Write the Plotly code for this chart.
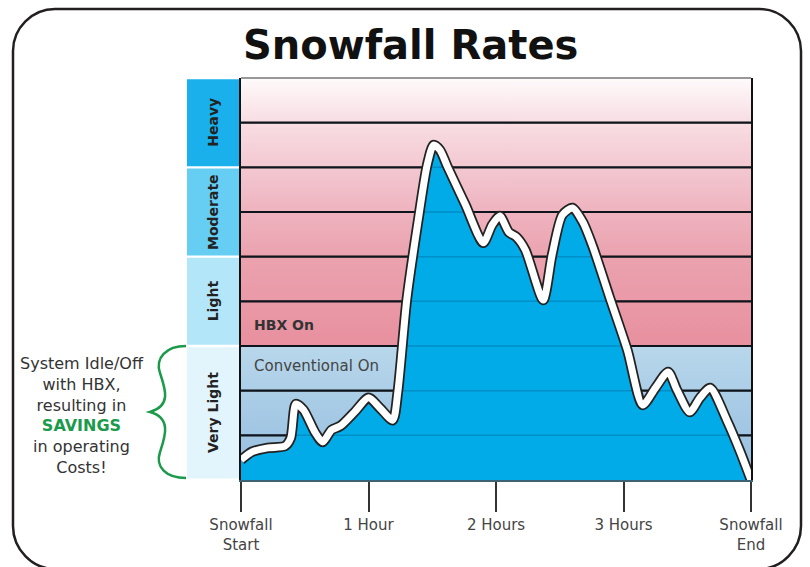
import plotly.graph_objects as go

# ---- data ----
hours = [0.0, 0.086, 0.21, 0.345, 0.39, 0.43, 0.49, 0.58, 0.64, 0.71, 0.78, 0.89, 1.0,
         1.09, 1.19, 1.23, 1.30, 1.39, 1.46, 1.51, 1.56, 1.62, 1.76, 1.90, 1.97, 2.03,
         2.10, 2.16, 2.23, 2.37, 2.44, 2.52, 2.60, 2.68, 2.76, 2.89, 3.03, 3.15, 3.25,
         3.35, 3.42, 3.52, 3.60, 3.68, 3.81, 3.91, 4.0]
rate = [0.45, 0.63, 0.72, 0.76, 0.94, 1.70, 1.57, 1.07, 0.85, 1.12, 1.21, 1.52, 1.84,
        1.61, 1.34, 1.97, 4.03, 5.82, 7.05, 7.50, 7.39, 7.01, 6.16, 5.31, 5.71, 5.91,
        5.55, 5.44, 5.15, 4.03, 5.04, 5.93, 6.09, 5.78, 5.22, 4.10, 2.91, 1.68, 2.06,
        2.42, 2.01, 1.52, 1.84, 2.06, 1.34, 0.67, 0.0]

tick_vals = [0, 1, 2, 3, 4]
tick_text = ["Snowfall<br>Start", "1 Hour", "2 Hours", "3 Hours", "Snowfall<br>End"]

band_names = ["Very Light", "Light", "Moderate", "Heavy"]
band_lo = [0, 3, 5, 7]
band_hi = [3, 5, 7, 9]
band_colors = ["#e2f4fc", "#b4e6fa", "#66cdf3", "#1ab0ec"]
grid_levels = [1, 2, 3, 4, 5, 6, 7, 8]
hbx_level = 3      # boundary between conventional and HBX zones
top_level = 9
x_end = 4

# ---- pixel helpers for decorations ----
L, R, T, B = 241, 751, 78, 480
W, H = 810, 567


def px(x):
    return (x - L) / (R - L)


def py(y):
    return (B - y) / (B - T)


def P(x, y):
    return f"{px(x):.5f},{py(y):.5f}"


fig = go.Figure()

# pink (HBX) gradient background
fig.add_trace(go.Scatter(
    x=[0, x_end, x_end, 0, 0], y=[hbx_level, hbx_level, top_level, top_level, hbx_level],
    mode="lines", fill="toself", line=dict(width=0), hoverinfo="skip",
    fillgradient=dict(type="vertical", colorscale=[
        [0, "#e8909f"], [0.333, "#eba2af"], [0.5, "#eeb3bf"],
        [0.667, "#f3c8d1"], [0.833, "#f8dde3"], [1, "#fefafb"]]),
    showlegend=False))
# blue (conventional) gradient background
fig.add_trace(go.Scatter(
    x=[0, x_end, x_end, 0, 0], y=[0, 0, hbx_level, hbx_level, 0],
    mode="lines", fill="toself", line=dict(width=0), hoverinfo="skip",
    fillgradient=dict(type="vertical", colorscale=[[0, "#94bddf"], [1, "#b8d7eb"]]),
    showlegend=False))

# grid lines
gx, gy = [], []
for g in grid_levels:
    gx += [0, x_end, None]
    gy += [g, g, None]
fig.add_trace(go.Scatter(x=gx, y=gy, mode="lines", line=dict(color="#111", width=2.2),
                         hoverinfo="skip", showlegend=False))

# snowfall area
fig.add_trace(go.Scatter(x=hours, y=rate, mode="lines", fill="tozeroy",
                         fillcolor="#00abe8", line=dict(width=0, shape="spline", smoothing=0.7),
                         hoverinfo="skip", showlegend=False))
# faint grid lines over the fill
fig.add_trace(go.Scatter(x=gx, y=gy, mode="lines", line=dict(color="rgba(0,40,80,0.22)", width=1.5),
                         hoverinfo="skip", showlegend=False))
# outline
fig.add_trace(go.Scatter(x=hours, y=rate, mode="lines",
                         line=dict(color="#222", width=10.5, shape="spline", smoothing=0.7),
                         hoverinfo="skip", showlegend=False))
fig.add_trace(go.Scatter(x=hours, y=rate, mode="lines",
                         line=dict(color="white", width=7, shape="spline", smoothing=0.7),
                         hoverinfo="skip", showlegend=False))

shapes = []
# band label boxes
for lo, hi, c in zip(band_lo, band_hi, band_colors):
    shapes.append(dict(type="rect", xref="paper", yref="paper",
                       x0=px(187), x1=px(239), y0=lo / top_level + (0.003 if lo > 0 else 0.004),
                       y1=hi / top_level - 0.003, fillcolor=c, line=dict(width=0), layer="above"))
# top border of plot
shapes.append(dict(type="line", xref="paper", yref="paper", x0=0, x1=1, y0=1, y1=1,
                   line=dict(color="#777", width=1.5)))
# outer rounded frame
frame = (f"M {P(55, 9)} L {P(759, 9)} C {P(782, 9)} {P(801, 28)} {P(801, 51)} "
         f"L {P(801, 526)} C {P(801, 549)} {P(782, 569)} {P(759, 569)} "
         f"L {P(55, 569)} C {P(32, 569)} {P(13, 549)} {P(13, 526)} "
         f"L {P(13, 51)} C {P(13, 28)} {P(32, 9)} {P(55, 9)} Z")
shapes.append(dict(type="path", xref="paper", yref="paper", path=frame,
                   line=dict(color="#231f20", width=2.5)))
# green brace
brace = (f"M {P(186, 346)} C {P(166, 346)} {P(155, 358)} {P(160, 373)} "
         f"C {P(165, 388)} {P(172, 406)} {P(150, 412)} "
         f"C {P(172, 418)} {P(165, 437)} {P(160, 452)} "
         f"C {P(155, 467)} {P(166, 478)} {P(186, 478)}")
shapes.append(dict(type="path", xref="paper", yref="paper", path=brace,
                   line=dict(color="#1a9a4a", width=2.5)))

annotations = []
for lo, hi, name in zip(band_lo, band_hi, band_names):
    annotations.append(dict(xref="paper", yref="y", x=px(213), y=(lo + hi) / 2, text=f"<b>{name}</b>",
                            textangle=-90, showarrow=False, xanchor="center", yanchor="middle",
                            font=dict(family="DejaVu Sans", size=14, color="#222")))
annotations.append(dict(xref="x", yref="y", x=0.09, y=3.47, text="<b>HBX On</b>", xanchor="left",
                        showarrow=False, font=dict(family="DejaVu Sans", size=14, color="#333")))
annotations.append(dict(xref="x", yref="y", x=0.085, y=2.55, text="Conventional On", xanchor="left",
                        showarrow=False, font=dict(family="DejaVu Sans", size=15, color="#444")))
annotations.append(dict(xref="paper", yref="paper", x=px(82), y=py(415.5),
                        xanchor="center", yanchor="middle",
                        text=("System Idle/Off<br>with HBX,<br>resulting in<br>"
                              "<b><span style='color:#1a9a4a'>SAVINGS</span></b><br>"
                              "in operating<br>Costs!"),
                        align="center", showarrow=False,
                        font=dict(family="DejaVu Sans", size=16, color="#333")))
annotations.append(dict(xref="paper", yref="paper", x=px(410), y=py(45), text="<b>Snowfall Rates</b>",
                        xanchor="center", yanchor="middle",
                        showarrow=False, font=dict(family="DejaVu Sans", size=40, color="#111")))

fig.update_layout(
    width=W, height=H, margin=dict(l=L, r=W - R, t=T, b=H - B),
    paper_bgcolor="white", plot_bgcolor="white",
    shapes=shapes, annotations=annotations,
    xaxis=dict(range=[0, x_end], tickvals=tick_vals, ticktext=tick_text, ticks="outside",
               ticklen=30, tickwidth=1.5, tickcolor="#333", showline=True, linecolor="#3d6275",
               linewidth=2, showgrid=False, zeroline=False,
               tickfont=dict(family="DejaVu Sans", size=15, color="#444")),
    yaxis=dict(range=[0, top_level], showticklabels=False, ticks="", showgrid=False, zeroline=False,
               showline=True, linecolor="#111", linewidth=2, mirror=True),
)

fig.write_html("out.html", config={"displayModeBar": False},
               post_script="document.body.style.margin='0px';document.body.style.overflow='hidden';")
